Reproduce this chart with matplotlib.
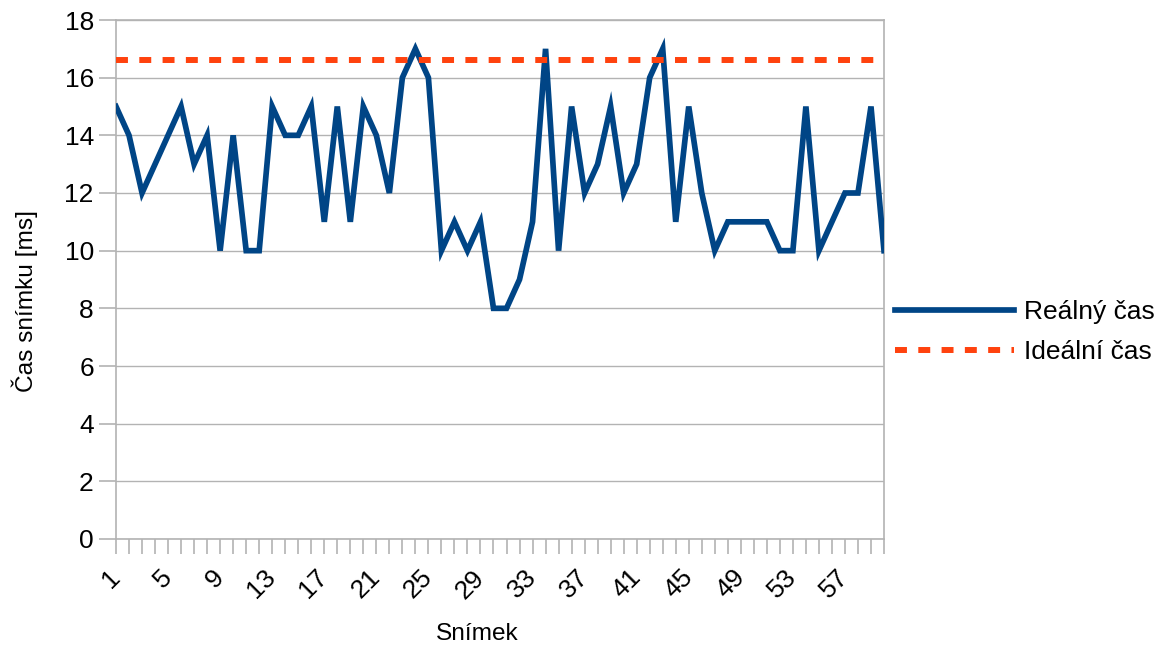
import matplotlib
matplotlib.use("Agg")
import matplotlib.pyplot as plt
import numpy as np

plt.rcParams['font.family'] = ['Liberation Sans', 'DejaVu Sans']

# Frame times per captured frame
frames = list(range(1, 61))
real_time = [15, 14, 12, 13, 14, 15, 13, 14, 10, 14,
             10, 10, 15, 14, 14, 15, 11, 15, 11, 15,
             14, 12, 16, 17, 16, 10, 11, 10, 11, 8,
             8, 9, 11, 17, 10, 15, 12, 13, 15, 12,
             13, 16, 17, 11, 15, 12, 10, 11, 11, 11,
             11, 10, 10, 15, 10, 11, 12, 12, 15, 10]
ideal_time = 16.6
y_ticks = [0, 2, 4, 6, 8, 10, 12, 14, 16, 18]

grey = '#b3b3b3'
blue = '#004586'
orange = '#ff420e'

fig = plt.figure(figsize=(11.64, 6.47), dpi=100)
ax = fig.add_axes([116 / 1164, 1 - 539 / 647, (884 - 116) / 1164, (539 - 20) / 647])

x = np.arange(len(frames))
ax.plot(x, real_time, color=blue, lw=4.1, solid_joinstyle='miter',
        label='Reálný čas', zorder=3)
ax.plot(x, [ideal_time] * len(frames), color=orange, lw=4.3,
        dashes=(2.0, 1.9), dash_capstyle='butt', label='Ideální čas', zorder=3)

ax.set_xlim(0, len(frames) - 1)
ax.set_ylim(0, 18)
ax.set_yticks(y_ticks)
ax.set_yticklabels([str(v) for v in y_ticks], fontsize=19)
ax.yaxis.grid(True, color=grey, lw=1.0)
ax.set_axisbelow(True)

ax.set_xticks(x)
ax.set_xticklabels([str(f) if (f - 1) % 4 == 0 else '' for f in frames],
                   fontsize=19, rotation=45, ha='right', va='center',
                   rotation_mode='anchor')

for s in ax.spines.values():
    s.set_color(grey)
    s.set_linewidth(1.2)

ax.tick_params(axis='y', direction='out', length=12, width=1.2, color=grey, pad=4)
ax.tick_params(axis='x', direction='out', length=11, width=1.2, color=grey, pad=14)

fig.text(25 / 1164, 1 - 301 / 647, 'Čas snímku [ms]', rotation=90,
         ha='center', va='center', fontsize=17.6)
fig.text(477 / 1164, 1 - 634 / 647, 'Snímek', ha='center', va='center',
         fontsize=17.6)

ax.legend(loc='center left', bbox_to_anchor=(895 / 1164, 1 - 332 / 647),
          bbox_transform=fig.transFigure, frameon=False, fontsize=19,
          handlelength=4.5, handletextpad=0.4, labelspacing=0.62,
          borderaxespad=0, borderpad=0)

fig.savefig('out.png', dpi=100)
